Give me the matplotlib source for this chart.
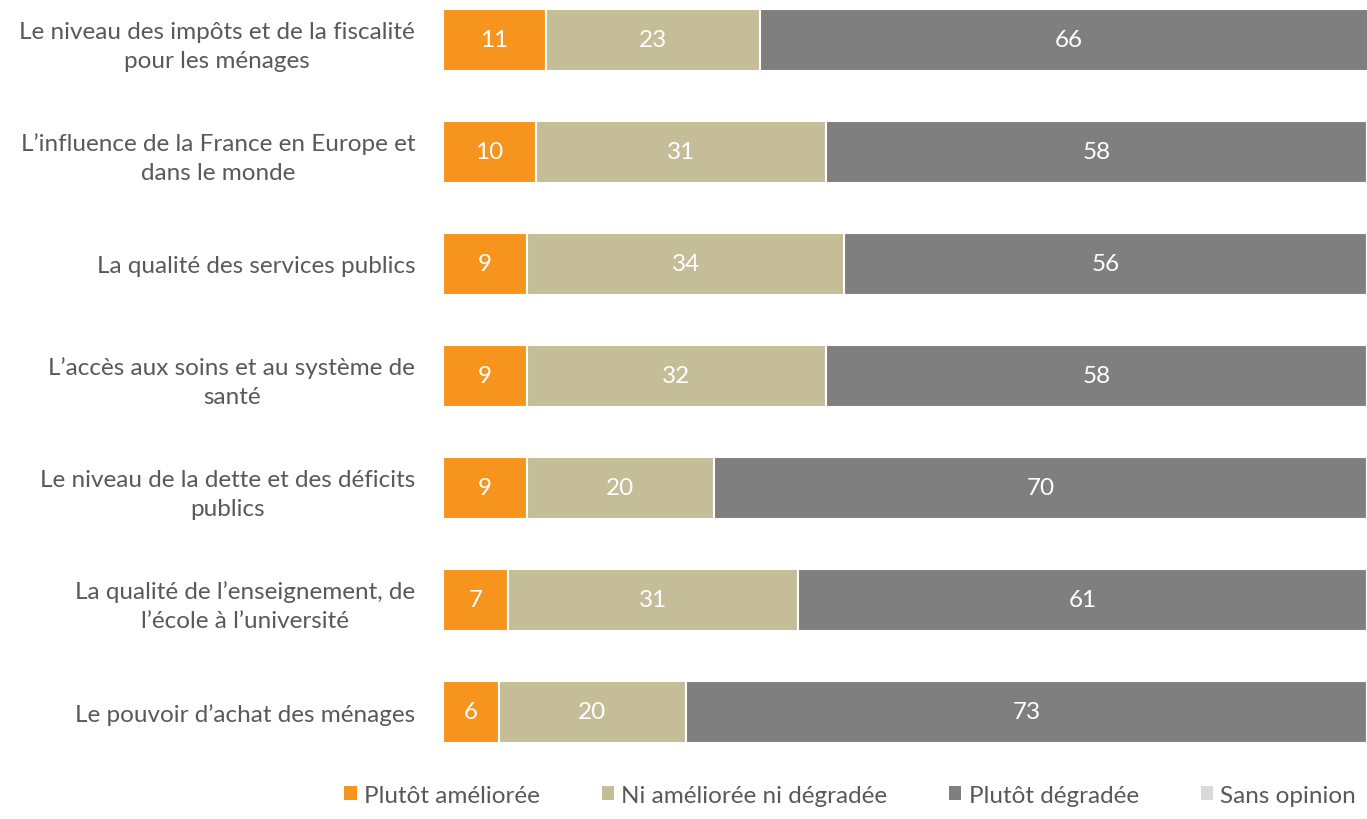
import numpy as np
import matplotlib
matplotlib.use("Agg")
import matplotlib.pyplot as plt
from matplotlib.patches import Patch

plt.rcParams['font.family'] = ['Lato', 'DejaVu Sans']

categories = [
    "Le niveau des impôts et de la fiscalité\npour les ménages",
    "L’influence de la France en Europe et\ndans le monde",
    "La qualité des services publics",
    "L’accès aux soins et au système de\nsanté",
    "Le niveau de la dette et des déficits\npublics",
    "La qualité de l’enseignement, de\nl’école à l’université",
    "Le pouvoir d’achat des ménages",
]
ameliore = [11, 10, 9, 9, 9, 7, 6]
ni_ni = [23, 31, 34, 32, 20, 31, 20]
degrade = [66, 58, 56, 58, 70, 61, 73]
sans_opinion = [0, 1, 1, 1, 1, 1, 1]

series = [
    ("Plutôt améliorée", ameliore, "#F7941D"),
    ("Ni améliorée ni dégradée", ni_ni, "#C4BD97"),
    ("Plutôt dégradée", degrade, "#7F7F7F"),
    ("Sans opinion", sans_opinion, "#D9D9D9"),
]

txt_color = "#595959"
fs = 17.5

fig = plt.figure(figsize=(13.67, 8.2), dpi=100)
ax = fig.add_axes([443 / 1367, 0.0622, 924 / 1367, 0.9378])

y = np.arange(len(categories))
left = np.zeros(len(categories))
for name, vals, col in series:
    vals = np.array(vals, dtype=float)
    ax.barh(y, vals, left=left, height=0.555, color=col, edgecolor="white",
            linewidth=1.5, label=name)
    if name != "Sans opinion":
        for yi, l, v in zip(y, left, vals):
            ax.text(l + v / 2, yi, f"{int(v)}", ha="center", va="center",
                    color="white", fontsize=fs)
    left += vals

ax.set_xlim(0, 99.0)
ax.set_ylim(6.5, -0.366)
ax.set_yticks(y)
ax.set_yticklabels(categories, fontsize=fs, color=txt_color)
for lab in ax.get_yticklabels():
    lab.set_multialignment("center")
    lab.set_linespacing(1.45)
ax.tick_params(axis="y", length=0, pad=20)
ax.set_xticks([])
for s in ax.spines.values():
    s.set_visible(False)

handles = [Patch(facecolor=c, edgecolor="none") for _, _, c in series]
labels = [n for n, _, _ in series]
fig.legend(handles, labels, loc="center", bbox_to_anchor=(0.622, 0.029),
           ncol=4, frameon=False, fontsize=fs, labelcolor=txt_color,
           handlelength=0.5, handleheight=0.5, handletextpad=0.3,
           columnspacing=2.55)

fig.savefig("out.png", dpi=100)
